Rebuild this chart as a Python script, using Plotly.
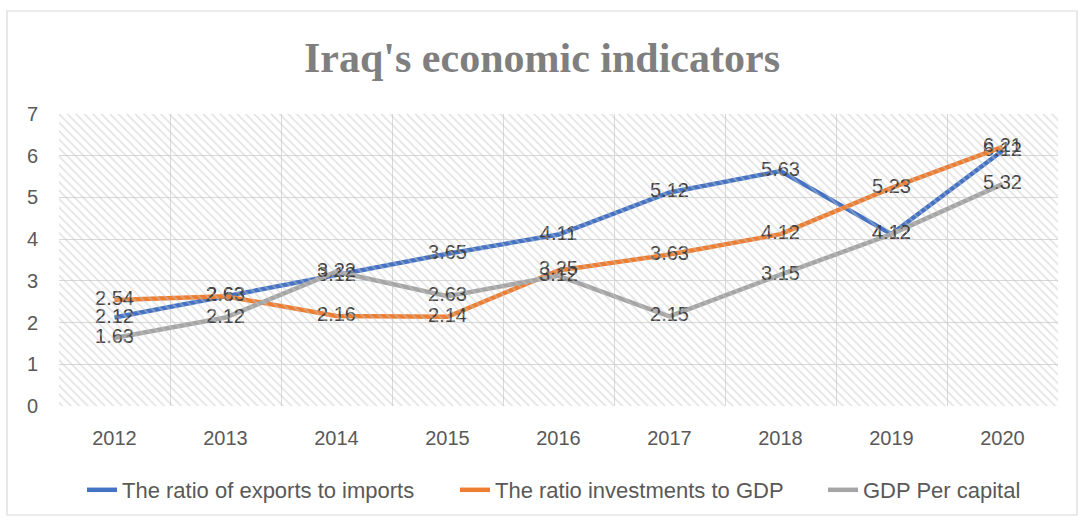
import plotly.graph_objects as go

years = ["2012", "2013", "2014", "2015", "2016", "2017", "2018", "2019", "2020"]
exports_imports = [2.12, 2.63, 3.12, 3.65, 4.11, 5.12, 5.63, 4.12, 6.12]
investments_gdp = [2.54, 2.63, 2.16, 2.14, 3.25, 3.63, 4.12, 5.23, 6.21]
gdp_per_capita = [1.63, 2.12, 3.22, 2.63, 3.12, 2.15, 3.15, 4.12, 5.32]
series_names = ["The ratio of exports to imports", "The ratio investments to GDP", "GDP Per capital"]
colors = ["#4472C4", "#ED7D31", "#A5A5A5"]
y_ticks = [0, 1, 2, 3, 4, 5, 6, 7]

W, H = 1084, 520
L, R, T, B = 59, 26, 114, 114
pw, ph = W - L - R, H - T - B

fig = go.Figure()

# hatched plot background
n = len(years)
fig.add_trace(go.Scatter(
    x=[-0.5, n - 0.5, n - 0.5, -0.5, -0.5], y=[0, 0, 7, 7, 0], xaxis="x2", yaxis="y",
    mode="lines", line=dict(width=0), fill="toself", fillcolor="rgba(0,0,0,0)",
    fillpattern=dict(shape="\\", fgcolor="#c8c8c8", bgcolor="rgba(0,0,0,0)", size=6, solidity=0.3),
    hoverinfo="skip", showlegend=False))

legend_ids = ["legend", "legend2", "legend3"]
legend_x = [82, 455, 823]
for name, vals, c, lg in zip(series_names, [exports_imports, investments_gdp, gdp_per_capita], colors, legend_ids):
    fig.add_trace(go.Scatter(
        x=years, y=vals, name=name, mode="lines+text", legend=lg,
        line=dict(color=c, width=4.5),
        text=[f"{v:.2f}" for v in vals], textposition="middle center",
        textfont=dict(family="Liberation Sans", size=20, color="#404040")))

# chart border
fig.add_shape(type="rect", xref="paper", yref="paper",
              x0=(7 - L) / pw, x1=(1077 - L) / pw,
              y0=-(515 - (H - B)) / ph, y1=1 + (T - 11) / ph,
              line=dict(color="#d9d9d9", width=1.2), fillcolor="rgba(0,0,0,0)", layer="below")

legend_common = dict(orientation="h", xref="container", xanchor="left",
                     y=-(490 - (H - B)) / ph, yanchor="middle",
                     font=dict(family="Liberation Sans", size=22, color="#595959"),
                     itemwidth=30, bgcolor="rgba(0,0,0,0)")

fig.update_layout(
    width=W, height=H, margin=dict(l=L, r=R, t=T, b=B, autoexpand=False),
    paper_bgcolor="white", plot_bgcolor="rgba(0,0,0,0)",
    title=dict(text="<b>Iraq's economic indicators</b>", x=0.5, xanchor="center",
               y=1 - 57 / H, yanchor="middle",
               font=dict(family="Liberation Serif", size=42, color="#7f7f7f")),
    xaxis=dict(type="category", range=[-0.5, n - 0.5], showgrid=False, ticks="",
               showline=False, zeroline=False, ticklabelstandoff=18,
               tickfont=dict(family="Liberation Sans", size=20, color="#595959")),
    xaxis2=dict(overlaying="x", range=[-0.5, n - 0.5], showgrid=True, gridcolor="#d9d9d9",
                gridwidth=1, tickvals=[i - 0.5 for i in range(n + 1)], showticklabels=False,
                zeroline=False, ticks=""),
    yaxis=dict(range=[0, 7], tickvals=y_ticks, showgrid=True, gridcolor="#d9d9d9", gridwidth=1,
               zeroline=False, ticks="", ticklabelstandoff=20,
               tickfont=dict(family="Liberation Sans", size=20, color="#595959")),
    legend=dict(x=legend_x[0] / W, **legend_common),
    legend2=dict(x=legend_x[1] / W, **legend_common),
    legend3=dict(x=legend_x[2] / W, **legend_common),
    showlegend=True,
)

fig.write_html("out.html")
